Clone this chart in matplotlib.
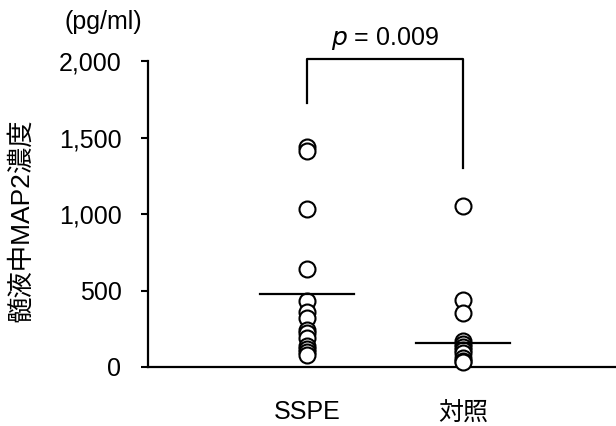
import matplotlib

matplotlib.use('Agg')
import matplotlib.pyplot as plt
import numpy as np

plt.rcParams['font.family'] = ['Liberation Sans', 'Noto Sans CJK JP', 'DejaVu Sans']

groups = ['SSPE', '対照']
sspe_values = [1440, 1415, 1030, 640, 430, 360, 320, 240, 220, 190, 140, 120, 100, 80]
control_values = [1055, 440, 350, 170, 150, 130, 110, 90, 60, 40, 30]
group_means = [477, 160]
y_ticks = [0, 500, 1000, 1500, 2000]
y_tick_labels = ['0', '500', '1,000', '1,500', '2,000']
p_text = '$p$ = 0.009'
bracket_left, bracket_top, bracket_right = 1725, 2013, 1300

fig = plt.figure(figsize=(6.16, 4.26), dpi=100)
ax = fig.add_axes([0.24, 0.1385, 0.76, 0.718])

for i, vals in enumerate([sspe_values, control_values]):
    ax.plot(np.full(len(vals), i), vals, 'o', ms=11.5, mfc='white', mec='black',
            mew=1.5, clip_on=False, zorder=3)
    ax.plot([i - 0.3, i + 0.3], [group_means[i]] * 2, color='black', lw=1.6, zorder=4)

# significance bracket
ax.plot([0, 0, 1, 1], [bracket_left, bracket_top, bracket_top, bracket_right],
        color='black', lw=1.6, clip_on=False)
ax.text(0.5, 2150, p_text, ha='center', va='center', fontsize=18)

ax.set_xlim(-1.02, 1.98)
ax.set_ylim(0, 2000)
ax.set_xticks([0, 1])
ax.set_xticklabels(groups, fontsize=18)
ax.tick_params(axis='x', length=0, pad=24)
ax.set_yticks(y_ticks)
ax.set_yticklabels(y_tick_labels, fontsize=18)
ax.tick_params(axis='y', length=5, width=1.5, pad=14)

for side in ['top', 'right']:
    ax.spines[side].set_visible(False)
for side in ['left', 'bottom']:
    ax.spines[side].set_linewidth(1.6)

fig.text(0.167, 0.948, '(pg/ml)', ha='center', va='center', fontsize=18)
fig.text(0.034, 0.483, '髄液中MAP2濃度', rotation=90, ha='center', va='center', fontsize=19)

fig.savefig('out.png', dpi=100)
